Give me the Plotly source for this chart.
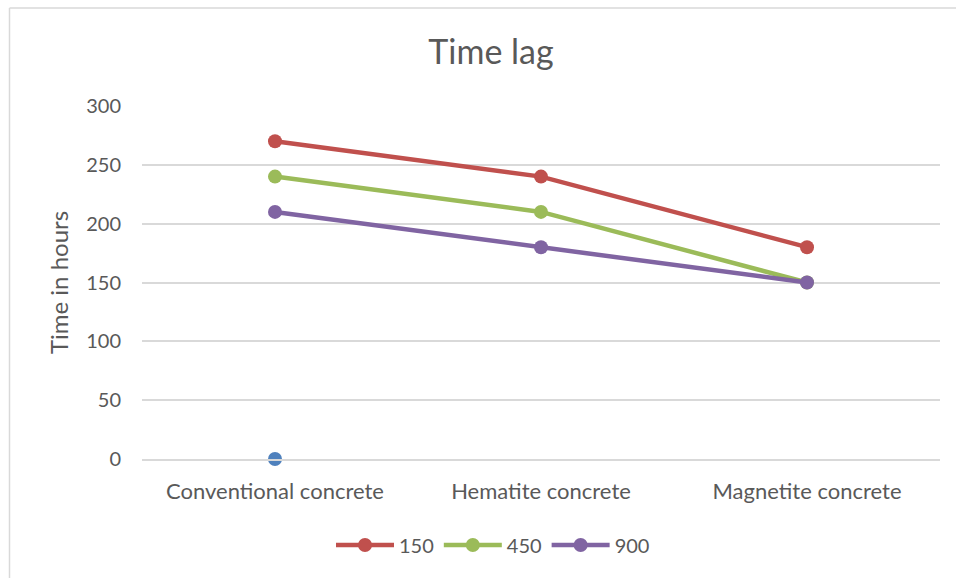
import plotly.graph_objects as go

categories = ["Conventional concrete", "Hematite concrete", "Magnetite concrete"]
series_names = ["150", "450", "900"]
values_150 = [270, 240, 180]
values_450 = [240, 210, 150]
values_900 = [210, 180, 150]
extra_point = [0, None, None]

colors = {"150": "#C0504D", "450": "#9BBB59", "900": "#8064A2"}
font_family = "Lato, 'Open Sans', sans-serif"
text_color = "#595959"

W, H = 956, 578
L, R, T, B = 142, 16, 106, 119
pw, ph = W - L - R, H - T - B

def px_x(x):
    return (x - L) / pw

def px_y(y):
    return (H - B - y) / ph

fig = go.Figure()

fig.add_trace(go.Scatter(
    x=categories, y=extra_point, mode="markers", showlegend=False,
    marker=dict(color="#4F81BD", size=14), cliponaxis=False))

for name, vals in zip(series_names, [values_150, values_450, values_900]):
    fig.add_trace(go.Scatter(
        x=categories, y=vals, name=name, mode="lines+markers",
        line=dict(color=colors[name], width=4.5),
        marker=dict(color=colors[name], size=14),
        cliponaxis=False))

fig.update_layout(
    width=W, height=H,
    margin=dict(l=L, r=R, t=T, b=B),
    paper_bgcolor="white", plot_bgcolor="white",
    font=dict(family=font_family, color=text_color, size=20),
    title=dict(text="Time lag", x=491 / W, xanchor="center",
               y=1 - 52 / H, yanchor="middle",
               font=dict(size=34, color=text_color, family=font_family)),
    xaxis=dict(type="category", range=[-0.5, 2.5], showgrid=False,
               showline=True, linecolor="#D9D9D9", linewidth=1.5,
               ticks="", tickfont=dict(size=22, color=text_color), ticklabelstandoff=12),
    yaxis=dict(range=[0, 300], dtick=50, showgrid=True, gridcolor="#D9D9D9",
               gridwidth=1.5, zeroline=False, showline=False, ticks="",
               tickfont=dict(size=20, color=text_color), ticklabelstandoff=20,
               title=dict(text="Time in hours", font=dict(size=24, color=text_color), standoff=10)),
    legend=dict(orientation="h", x=px_x(493), xanchor="center", y=px_y(545), yanchor="middle",
                font=dict(size=20, color=text_color), itemwidth=58, tracegroupgap=0),
    shapes=[
        dict(type="line", xref="paper", yref="paper", x0=px_x(9.5), x1=px_x(9.5),
             y0=px_y(8), y1=px_y(H + 5), line=dict(color="#D9D9D9", width=1.5)),
        dict(type="line", xref="paper", yref="paper", x0=px_x(9.5), x1=px_x(W + 5),
             y0=px_y(8), y1=px_y(8), line=dict(color="#D9D9D9", width=1.5)),
    ],
)

fig.write_html("out.html")
